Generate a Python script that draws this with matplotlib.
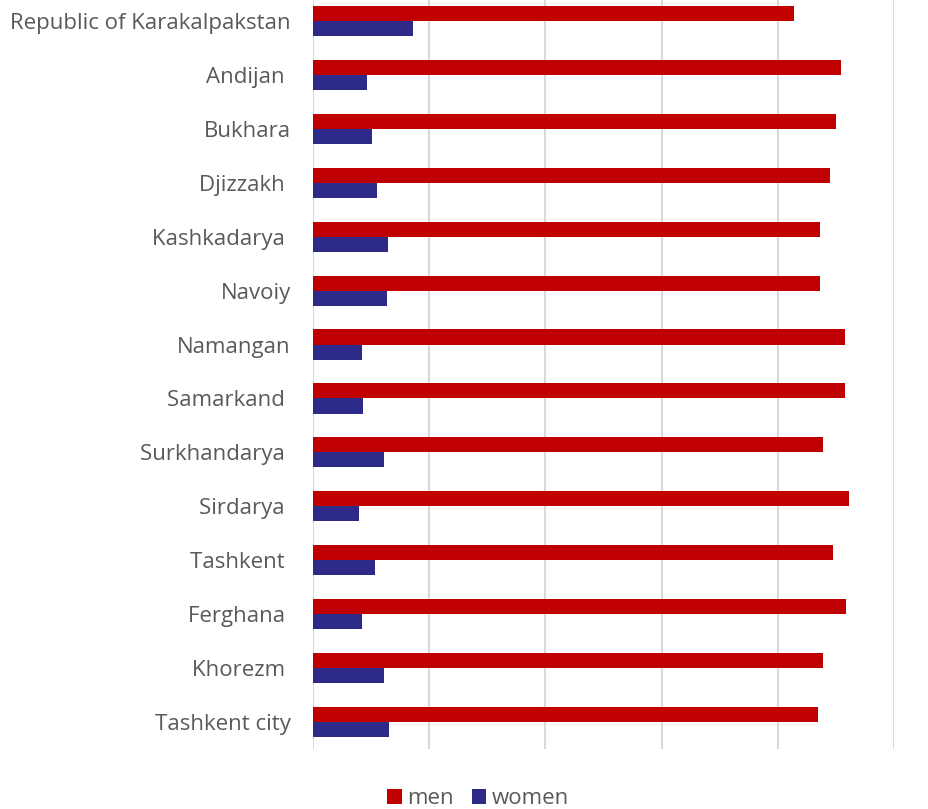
import matplotlib
matplotlib.use("Agg")
import matplotlib.pyplot as plt
import numpy as np

# share of employed by sex, %
regions = [
    "Republic of Karakalpakstan", "Andijan ", "Bukhara", "Djizzakh ",
    "Kashkadarya ", "Navoiy", "Namangan", "Samarkand ", "Surkhandarya ",
    "Sirdarya ", "Tashkent ", "Ferghana ", "Khorezm ", "Tashkent city",
]
men = [82.8, 90.9, 90.0, 89.0, 87.2, 87.3, 91.6, 91.5, 87.8, 92.2, 89.5, 91.7, 87.8, 86.9]
women = [17.2, 9.3, 10.2, 11.1, 12.9, 12.7, 8.5, 8.6, 12.3, 7.9, 10.6, 8.4, 12.3, 13.1]

plt.rcParams["font.family"] = ["Open Sans", "DejaVu Sans"]
text_col = "#595959"

fig = plt.figure(figsize=(9.29, 8.09), dpi=100)
ax = fig.add_axes([313 / 929, 1 - 749 / 809, (894 - 313) / 929, 755 / 809])

y = np.arange(len(regions))
h = 0.28
ax.barh(y - h / 2, men, height=h, color="#c00000", label="men", zorder=3)
ax.barh(y + h / 2, women, height=h, color="#2e2a8a", label="women", zorder=3)

ax.set_xlim(0, 100)
ax.set_ylim(len(regions) - 0.5, -0.5)
ax.set_xticks([0, 20, 40, 60, 80, 100])
ax.set_xticklabels([])
ax.set_yticks(y)
ax.set_yticklabels(regions, fontsize=16, color=text_col, va="center_baseline")
ax.tick_params(axis="both", length=0)
ax.tick_params(axis="y", pad=16)
ax.grid(axis="x", color="#d9d9d9", linewidth=1.5, zorder=0)
for s in ax.spines.values():
    s.set_visible(False)

fig.legend(loc="center", bbox_to_anchor=(478 / 929, 1 - 799 / 809), ncol=2,
           frameon=False, fontsize=16, handlelength=0.65, handleheight=0.65,
           handletextpad=0.25, columnspacing=0.8, labelcolor=text_col)

fig.savefig("out.png", dpi=100)
